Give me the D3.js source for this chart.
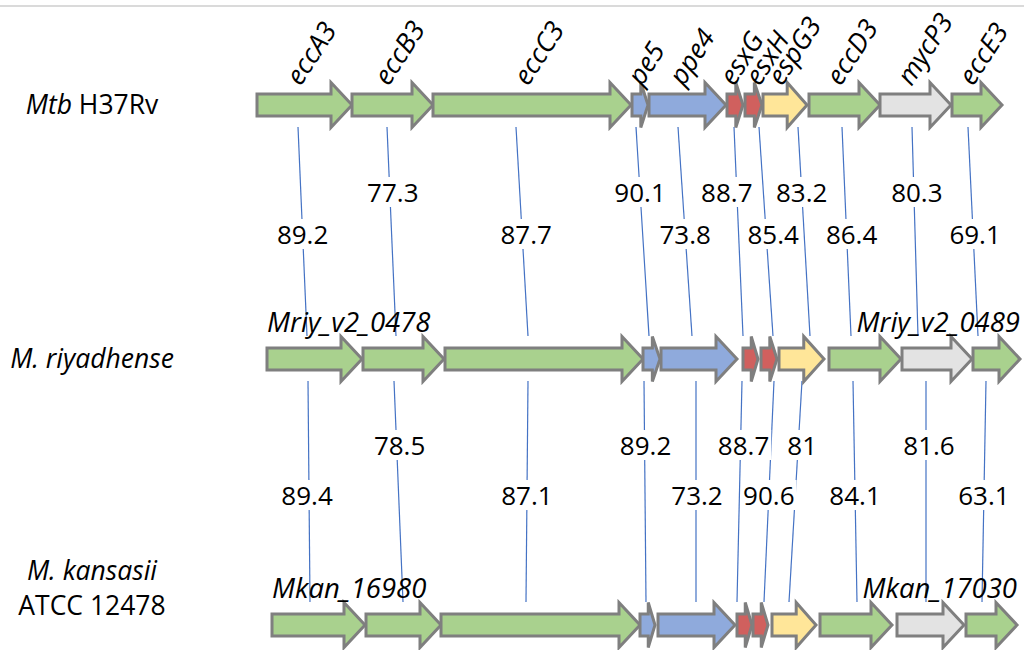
<!DOCTYPE html>
<html><head><meta charset="utf-8">
<script src="https://cdn.jsdelivr.net/npm/d3@7"></script>
<style>body{margin:0;background:#fff} svg{display:block} text{font-family:"Open Sans",sans-serif}</style>
</head><body>
<svg id="chart" width="1024" height="650"></svg>
<script>
// ---------------- DATA ----------------
const genes = ["eccA3","eccB3","eccC3","pe5","ppe4","esxG","esxH","espG3","eccD3","mycP3","eccE3"];
const geneFamily = ["ecc","ecc","ecc","pe","pe","esx","esx","esp","ecc","myc","ecc"];
const genomeKeys = ["mtb","mriy","mkan"];
// gene coordinates along each locus (diagram units)
const mtbStart  = [257,352,433,632,649,727,745,763,809,880,952];
const mtbEnd    = [352,433,631,648,726,743,762,807,880,951,1002];
const mriyStart = [267,363,445,643,661,743,761,779,829,902,973];
const mriyEnd   = [362,444,643,660,737,758,777,824,901,972,1020];
const mkanStart = [272,366,441,640,658,737,753,772,820,897,966];
const mkanEnd   = [365,441,640,655,735,752,768,816,892,964,1017];
// % identity between orthologues
const identityMtbMriy  = [89.2,77.3,87.7,90.1,73.8,88.7,85.4,83.2,86.4,80.3,69.1];
const identityMriyMkan = [89.4,78.5,87.1,89.2,73.2,88.7,90.6,81,84.1,81.6,63.1];
// link anchor positions on each locus (diagram units)
const linkMtbMriyTop     = [298,387,516,636,678,734,759,798,842,912,968];
const linkMtbMriyBottom  = [307,396,528,649,692,743,773,810,851,918,978];
const linkMriyMkanTop    = [308,394,528,644,696,742,774,802,853,926,986];
const linkMriyMkanBottom = [310,403,526,646,696,737,764,789,857,926,982];
const mriyIds = ["Mriy_v2_0478","Mriy_v2_0489"];
const mkanIds = ["Mkan_16980","Mkan_17030"];

// ---------------- LAYOUT ----------------
const W = 1024, H = 650;
const svg = d3.select("#chart");
const x = d3.scaleLinear().domain([0, 1024]).range([0, W]);
const rowY = d3.scaleOrdinal().domain(genomeKeys).range([105, 359, 625]);
const fill = d3.scaleOrdinal().domain(["ecc","pe","esx","esp","myc"])
  .range(["#A9D18E","#8FAADC","#D0605E","#FFE699","#E3E3E3"]);
const shaftH = 11, headH = 22.5;
const labelNudge1 = [0,3,4,0,0,-10,7,0,5,3,2];
const labelNudge2 = [-2,3,0,1,1,3,0,4,0,3,0];
const geneLabelNudge = [0,0,0,6,0,3,10,1,0,0,0];

// top rule
svg.append("line").attr("x1",0).attr("x2",W).attr("y1",6).attr("y2",6)
  .attr("stroke","#DADADA").attr("stroke-width",2);

const loci = {
  mtb:  genes.map((g,i)=>({gene:g, i, fam:geneFamily[i], s:mtbStart[i],  e:mtbEnd[i]})),
  mriy: genes.map((g,i)=>({gene:g, i, fam:geneFamily[i], s:mriyStart[i], e:mriyEnd[i]})),
  mkan: genes.map((g,i)=>({gene:g, i, fam:geneFamily[i], s:mkanStart[i], e:mkanEnd[i]}))
};

function arrowPath(d, y){
  const s = x(d.s), e = x(d.e);
  const hl = Math.min(21, 0.45*(e-s));
  return `M${s},${y-shaftH}L${e-hl},${y-shaftH}L${e-hl},${y-headH}L${e},${y}L${e-hl},${y+headH}L${e-hl},${y+shaftH}L${s},${y+shaftH}Z`;
}

// links + identity labels
const bands = [
  {top:"mtb", bot:"mriy", a:linkMtbMriyTop, b:linkMtbMriyBottom, v:identityMtbMriy, tiers:[192,234], nudge:labelNudge1},
  {top:"mriy", bot:"mkan", a:linkMriyMkanTop, b:linkMriyMkanBottom, v:identityMriyMkan, tiers:[445,495], nudge:labelNudge2}
];
const linkG = svg.append("g");
const labG = svg.append("g");
bands.forEach(band=>{
  const y1 = rowY(band.top)+22, y2 = rowY(band.bot)-23;
  band.v.forEach((val,i)=>{
    const xa = x(band.a[i]), xb = x(band.b[i]);
    linkG.append("line").attr("x1",xa).attr("y1",y1).attr("x2",xb).attr("y2",y2)
      .attr("stroke","#4472C4").attr("stroke-width",1.2);
    const ty = band.tiers[i%2===1?0:1];
    const tx = xa + (xb-xa)*(ty-y1)/(y2-y1) + band.nudge[i];
    const g = labG.append("g");
    const t = g.append("text").attr("x",tx).attr("y",ty+9.5).attr("text-anchor","middle")
      .attr("font-size",26).attr("fill","#000").text(val);
    const bb = t.node().getBBox();
    g.insert("rect","text").attr("x",bb.x-2).attr("y",ty-15).attr("width",bb.width+4).attr("height",30)
      .attr("fill","#fff");
  });
});

// arrows
genomeKeys.forEach(k=>{
  svg.append("g").selectAll("path").data(loci[k]).join("path")
    .attr("d", d=>arrowPath(d, rowY(k)))
    .attr("fill", d=>fill(d.fam))
    .attr("stroke","#7F7F7F").attr("stroke-width",3).attr("stroke-linejoin","miter");
});

// gene names (top locus)
svg.append("g").selectAll("text").data(loci.mtb).join("text")
  .attr("transform", d=>`translate(${x((d.s+d.e)/2)-4+geneLabelNudge[d.i]},${rowY("mtb")-18}) rotate(-57)`)
  .attr("font-size",27).attr("font-style","italic").text(d=>d.gene);

// locus ids
function ids(k, arr){
  const y = rowY(k)-27;
  svg.append("text").attr("x",x(loci[k][0].s)).attr("y",y).attr("font-size",27.5)
    .attr("font-style","italic").text(arr[0]);
  svg.append("text").attr("x",x(loci[k][loci[k].length-1].e)).attr("y",y).attr("text-anchor","end")
    .attr("font-size",27.5).attr("font-style","italic").text(arr[1]);
}
ids("mriy", mriyIds);
ids("mkan", mkanIds);

// species labels
const sp = svg.append("g").attr("font-size",26.5).attr("text-anchor","middle");
const t1 = sp.append("text").attr("x",92).attr("y",rowY("mtb")+9);
t1.append("tspan").attr("font-style","italic").text("Mtb");
t1.append("tspan").text(" H37Rv");
sp.append("text").attr("x",92).attr("y",rowY("mriy")+9).attr("font-style","italic").text("M. riyadhense");
sp.append("text").attr("x",92).attr("y",rowY("mkan")-45).attr("font-style","italic").text("M. kansasii");
sp.append("text").attr("x",92).attr("y",rowY("mkan")-10).text("ATCC 12478");
</script>
</body></html>
